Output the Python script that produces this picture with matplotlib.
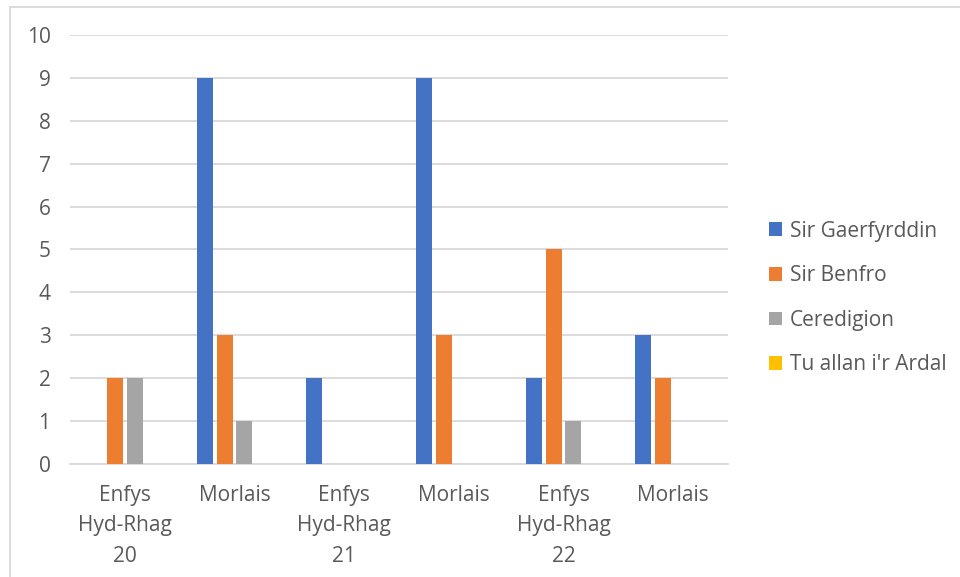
import numpy as np
import matplotlib.pyplot as plt
from matplotlib.lines import Line2D

categories = ['Enfys\nHyd-Rhag\n20', 'Morlais', 'Enfys\nHyd-Rhag\n21', 'Morlais',
              'Enfys\nHyd-Rhag\n22', 'Morlais']
series_names = ['Sir Gaerfyrddin', 'Sir Benfro', 'Ceredigion', "Tu allan i'r Ardal"]
sir_gaerfyrddin = [0, 9, 2, 9, 2, 3]
sir_benfro = [2, 3, 0, 3, 5, 2]
ceredigion = [2, 1, 0, 0, 1, 0]
tu_allan = [0, 0, 0, 0, 0, 0]
colors = ['#4472C4', '#ED7D31', '#A5A5A5', '#FFC000']

plt.rcParams['font.family'] = ['Open Sans', 'DejaVu Sans']
txt = '#595959'
fs = 15

fig = plt.figure(figsize=(9.6, 5.77), dpi=100)
ax = fig.add_axes([70 / 960, 1 - 464 / 577, 658 / 960, 429 / 577])

x = np.arange(len(categories))
w = 16 / 109.7
step = 20 / 109.7
for i, (name, vals) in enumerate(zip(series_names, [sir_gaerfyrddin, sir_benfro, ceredigion, tu_allan])):
    ax.bar(x + (i - 1.5) * step, vals, w, color=colors[i], label=name, zorder=3)

ax.set_xlim(-0.5, len(categories) - 0.5)
ax.set_ylim(0, 10)
ax.set_yticks(range(0, 11))
ax.set_xticks(x)
ax.set_xticklabels(categories, linespacing=1.6, va='top')
ax.grid(axis='y', color='#D9D9D9', linewidth=1.3, zorder=0)
for s in ['top', 'right', 'left']:
    ax.spines[s].set_visible(False)
ax.spines['bottom'].set_color('#D9D9D9')
ax.spines['bottom'].set_linewidth(1.3)
ax.tick_params(axis='both', length=0, labelsize=fs, colors=txt)
ax.tick_params(axis='y', pad=14)
ax.tick_params(axis='x', pad=15)

leg = ax.legend(loc='center left', bbox_to_anchor=(750 / 960, 1 - 298 / 577),
                bbox_transform=fig.transFigure, frameon=False, fontsize=fs,
                handlelength=0.65, handleheight=0.65, handletextpad=0.35,
                labelspacing=1.13)
for t in leg.get_texts():
    t.set_color(txt)

# chart-area frame (only top and left edges show)
fig.lines.append(Line2D([10 / 960, 1], [1 - 6.5 / 577, 1 - 6.5 / 577], transform=fig.transFigure,
                        color='#D9D9D9', linewidth=1.3))
fig.lines.append(Line2D([10 / 960, 10 / 960], [0, 1 - 6.5 / 577], transform=fig.transFigure,
                        color='#D9D9D9', linewidth=1.3))

fig.savefig('out.png', dpi=100)
